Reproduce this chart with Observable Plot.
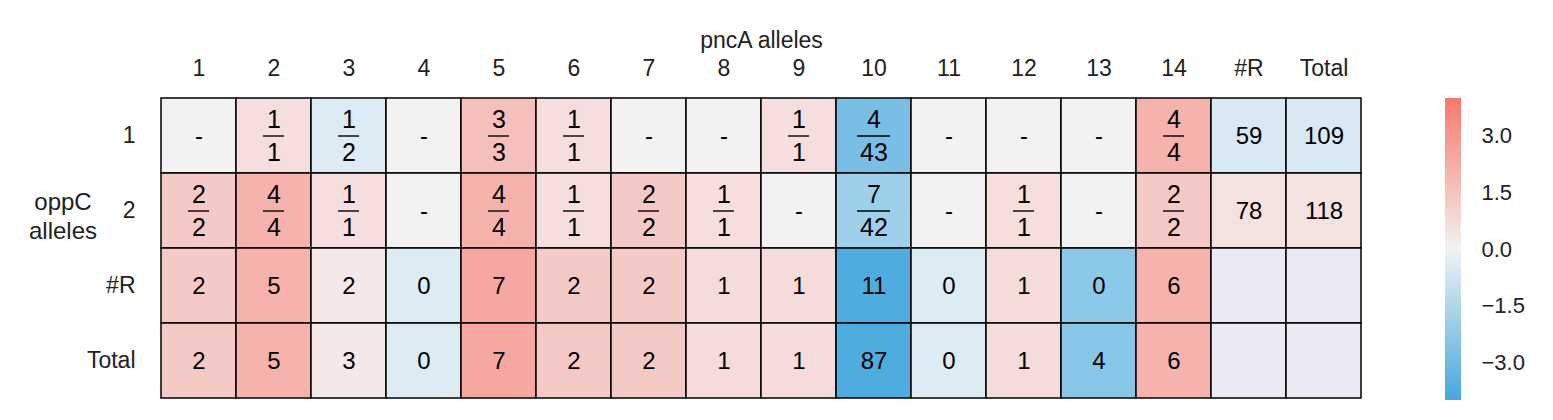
<!DOCTYPE html>
<html><head><meta charset="utf-8">
<script src="https://cdn.jsdelivr.net/npm/d3@7"></script>
<script src="https://cdn.jsdelivr.net/npm/@observablehq/plot@0.6"></script>
<style>
body{margin:0;background:#fff;font-family:"Liberation Sans",Arial,sans-serif;}
#wrap{position:relative;width:1553px;height:420px;}
#chart{position:absolute;left:0;top:0;}
#ylab{position:absolute;left:18px;top:187px;width:90px;text-align:center;font-size:24px;line-height:29px;color:#222;}
#bar{position:absolute;left:1445px;top:98px;width:16px;height:302px;
 background:linear-gradient(to bottom,#f7786b,#f2f2f2 50%,#45a8dd);}
#legend{position:absolute;left:1445px;top:0;}
</style></head><body>
<div id="wrap"><div id="chart"></div><div id="ylab">oppC<br>alleles</div><div id="bar"></div><div id="legend"></div></div>
<script>
// columnas y filas
const cols = ["1","2","3","4","5","6","7","8","9","10","11","12","13","14","#R","Total"]
const rows = ["1","2","#R","Total"]
// etiquetas de cada fila
const row1 = ["-","1/1","1/2","-","3/3","1/1","-","-","1/1","4/43","-","-","-","4/4","59","109"]
const row2 = ["2/2","4/4","1/1","-","4/4","1/1","2/2","1/1","-","7/42","-","1/1","-","2/2","78","118"]
const row3 = ["2","5","2","0","7","2","2","1","1","11","0","1","0","6","",""]
const row4 = ["2","5","3","0","7","2","2","1","1","87","0","1","4","6","",""]
// valores de color (estimados)
const val1 = [0,0.7,-0.5,0,1.6,0.7,0,0,0.7,-2.6,0,0,0,2.0,-0.6,-0.6]
const val2 = [1.3,2.0,0.7,0,2.0,0.7,1.3,0.7,0,-1.8,0,0.7,0,1.3,0.6,0.6]
const val3 = [1.3,2.0,0.4,-0.5,2.3,1.3,1.3,0.8,0.8,-3.5,-0.5,0.8,-2.2,2.0,null,null]
const val4 = [1.3,2.0,0.4,-0.5,2.3,1.3,1.3,0.8,0.8,-3.5,-0.5,0.8,-2.3,2.0,null,null]

const labels = [row1,row2,row3,row4], vals = [val1,val2,val3,val4]
const data = []
rows.forEach((r,i) => cols.forEach((c,j) => {
  const t = labels[i][j], v = vals[i][j]
  const [num,den] = t.includes("/") ? t.split("/") : [null,null]
  data.push({row:r, col:c, t, v, num, den,
    fill: t === "" ? "#eaeaf2" : (t === "-" ? "#f2f2f2" : null)})
}))
const color = d3.scaleLinear().domain([-3.7,0,3.7]).range(["#45a8dd","#f4f6f8","#f7786b"])
const fr = data.filter(d => d.num)
const fr1 = fr.filter(d => d.den.length === 1), fr2 = fr.filter(d => d.den.length > 1)
const plain = data.filter(d => !d.num)

const chart = Plot.plot({
  width: 1400, height: 420,
  marginLeft: 157, marginRight: 35, marginTop: 97, marginBottom: 21,
  style: {fontFamily: "Liberation Sans, Arial, sans-serif", fontSize: "23px", color: "#222"},
  x: {domain: cols, padding: 0, axis: "top", tickSize: 0, tickPadding: 22, label: "pncA alleles", labelAnchor: "center", labelOffset: 66},
  y: {domain: rows, padding: 0, tickSize: 0, tickPadding: 22, label: null},
  marks: [
    Plot.cell(data, {x: "col", y: "row", fill: d => d.fill ?? color(d.v), stroke: "#000", strokeWidth: 1.5}),
    Plot.text(plain, {x: "col", y: "row", text: "t", fontSize: 24, fill: "#000"}),
    Plot.text(fr, {x: "col", y: "row", text: "num", dy: -16, fontSize: 25, fill: "#000"}),
    Plot.text(fr, {x: "col", y: "row", text: "den", dy: 17, fontSize: 25, fill: "#000"}),
    Plot.tickY(fr1, {x: "col", y: "row", insetLeft: 27, insetRight: 27, stroke: "#000", strokeWidth: 1.4}),
    Plot.tickY(fr2, {x: "col", y: "row", insetLeft: 21, insetRight: 21, stroke: "#000", strokeWidth: 1.4})
  ]
})
d3.select('#chart').append(() => chart)

const leg = Plot.plot({
  width: 100, height: 420, marginLeft: 0, marginTop: 98, marginBottom: 20, marginRight: 84,
  style: {fontFamily: "Liberation Sans, Arial, sans-serif", fontSize: "22px", color: "#222"},
  y: {domain: [-4, 4]},
  marks: [Plot.axisY({anchor: "right", ticks: [-3,-1.5,0,1.5,3], tickFormat: d3.format(".1f"), tickSize: 0, tickPadding: 20, label: null})]
})
d3.select('#legend').append(() => leg)
</script></body></html>
